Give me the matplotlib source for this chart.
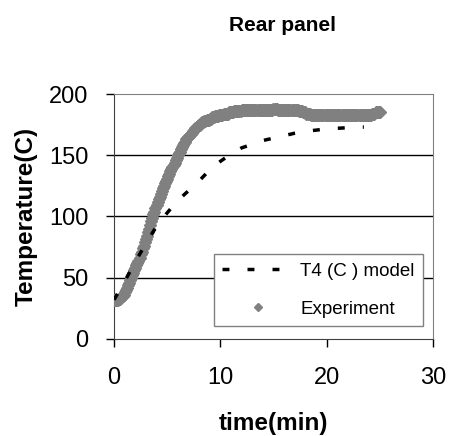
import matplotlib
matplotlib.use('Agg')
import matplotlib.pyplot as plt

plt.rcParams['font.family'] = ['Liberation Sans', 'DejaVu Sans']

# experiment readings, every 0.1 min from 0 to 25
exp_time = [i / 10 for i in range(251)]
exp_temp = [
    32, 32, 32, 32, 32, 33, 33, 34, 35, 36,
    38, 40, 42, 44, 46, 48, 50, 52, 54, 56,
    58, 60, 62, 64, 66, 69, 71, 74, 76, 79,
    82, 84, 87, 90, 93, 96, 99, 102, 104, 107,
    109, 112, 114, 116, 118, 121, 123, 125, 127, 129,
    131, 133, 135, 137, 139, 140, 142, 144, 146, 148,
    150, 152, 153, 155, 157, 158, 160, 161, 163, 164,
    165, 166, 167, 168, 170, 171, 172, 172, 173, 174,
    175, 175, 176, 177, 177, 178, 178, 179, 179, 179,
    180, 180, 181, 181, 181, 182, 182, 182, 182, 183,
    183, 183, 183, 184, 184, 184, 184, 184, 185, 185,
    185, 185, 185, 186, 186, 186, 186, 186, 186, 186,
    187, 187, 187, 187, 187, 187, 187, 187, 187, 187,
    187, 187, 187, 187, 187, 187, 187, 187, 187, 187,
    187, 187, 187, 187, 187, 187, 187, 187, 187, 187,
    188, 188, 188, 188, 187, 187, 187, 187, 187, 187,
    187, 187, 187, 187, 187, 187, 187, 187, 187, 187,
    187, 187, 187, 187, 186, 186, 186, 186, 185, 185,
    185, 184, 184, 184, 184, 183, 183, 183, 183, 183,
    183, 183, 183, 183, 183, 183, 183, 183, 183, 183,
    183, 183, 183, 183, 183, 183, 183, 183, 183, 183,
    183, 183, 183, 183, 183, 183, 183, 183, 183, 183,
    183, 183, 183, 183, 183, 183, 183, 183, 183, 183,
    183, 183, 183, 183, 183, 183, 183, 183, 183, 183,
    183, 183, 183, 184, 184, 184, 185, 185, 185, 185,
    185]

# model T4
model_time = [0, 1, 2, 3, 4, 5, 6, 7, 8, 9, 10, 11, 12, 13, 14, 15,
              16, 17, 18, 19, 20, 21, 22, 23, 23.5]
model_temp = [32, 47, 63, 78, 92, 103, 113, 121, 129, 138, 145, 151, 156,
              159, 162, 164, 166, 168, 169.5, 170.5, 171.5, 172, 172.5, 173, 173]

fig = plt.figure(figsize=(4.51, 4.36), dpi=100)
ax = fig.add_axes([0.2528, 0.2225, 0.7072, 0.5619])

ax.plot(exp_time, exp_temp, linestyle='none', marker='D', markersize=6,
        color='#808080', label='Experiment', zorder=3)
ax.plot(model_time, model_temp, color='black', linewidth=2.5,
        dashes=(2.0, 5.2), label='T4 (C ) model', zorder=4)

ax.set_xlim(0, 30)
ax.set_ylim(0, 200)
ax.set_xticks([0, 10, 20, 30])
ax.set_yticks([0, 50, 100, 150, 200])
ax.tick_params(labelsize=17, length=6, width=1, direction='out', pad=12.5)
ax.tick_params(axis='x', pad=14)

for y in [50, 100, 150]:
    ax.axhline(y, color='black', linewidth=1, zorder=1)

ax.spines['top'].set_color('#808080')
ax.spines['right'].set_color('#808080')
ax.spines['left'].set_color('#404040')
ax.spines['bottom'].set_color('#404040')

ax.set_xlabel('time(min)', fontsize=17.5, fontweight='bold', labelpad=17)
ax.set_ylabel('Temperature(C)', fontsize=17.5, fontweight='bold', labelpad=8)
fig.text(0.627, 0.929, 'Rear panel', fontsize=15, fontweight='bold',
         ha='center', va='baseline')

handles, labels = ax.get_legend_handles_labels()
leg = ax.legend(handles[::-1], labels[::-1], loc='lower right',
                bbox_to_anchor=(0.969, 0.053), borderaxespad=0,
                fontsize=13.5, fancybox=False, framealpha=1,
                edgecolor='#808080', handlelength=3.8, handletextpad=0.35,
                labelspacing=1.1, borderpad=0.45, markerscale=0.75)
leg.get_frame().set_linewidth(1)
leg.set_zorder(5)

fig.savefig('out.png', dpi=100)
